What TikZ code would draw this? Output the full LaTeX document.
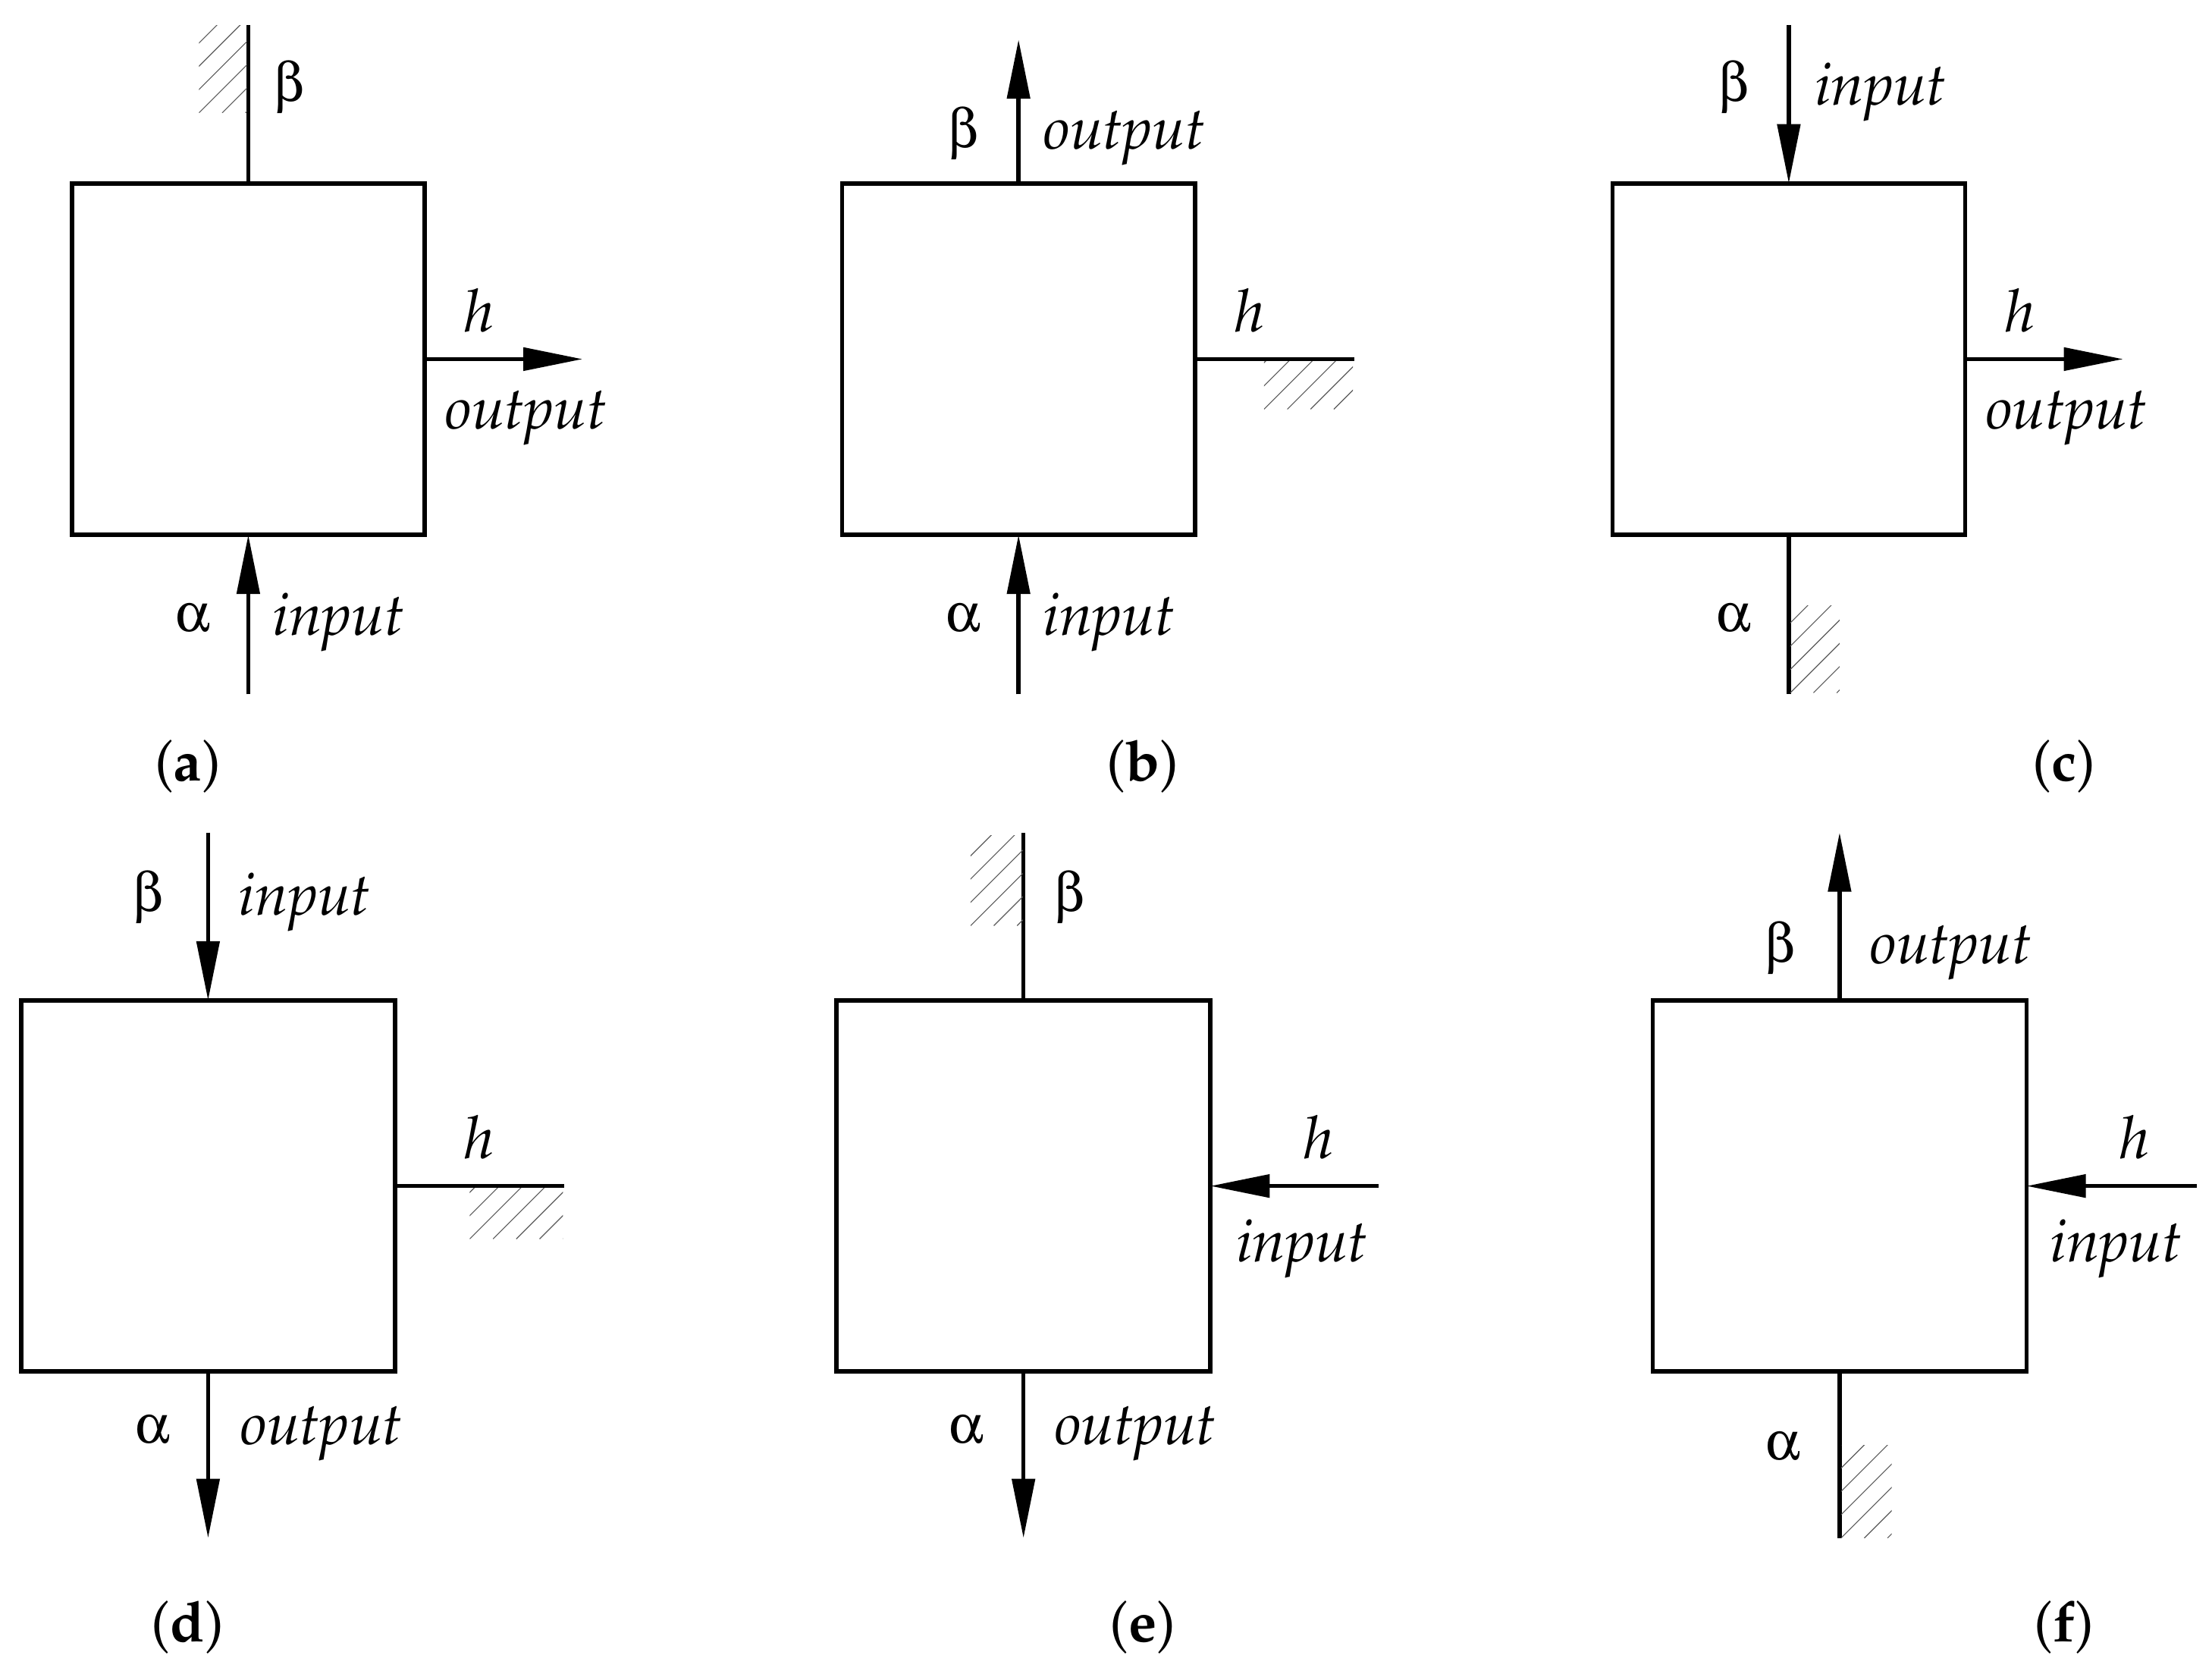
\documentclass[tikz,border=0pt]{standalone}
\usepackage[T1]{fontenc}
\usepackage{mathpazo}
\usepackage[Symbol]{upgreek}
\usetikzlibrary{arrows.meta}
\tikzset{
  boxs/.style={draw, line width=3pt, minimum width=250pt, minimum height=249pt, inner sep=0pt, outer sep=0pt},
  boxl/.style={draw, line width=3pt, minimum width=265pt, minimum height=263pt, inner sep=0pt, outer sep=0pt},
  conn/.style={line width=3pt},
  arr/.style={conn, -{Triangle[length=42pt,width=16pt]}},
  hatchline/.style={black!65, line width=0.6pt},
  lbl/.style={font=\fontsize{42}{50}\selectfont\itshape, inner sep=0pt, yshift=-3pt},
  grk/.style={font=\fontsize{39}{46}\selectfont, inner sep=0pt},
  captxt/.style={font=\fontsize{40}{48}\selectfont, inner sep=0pt}
}
\newcommand{\hatchbox}[5]{%
  \begin{scope}
    \clip (#1,#2) rectangle (#3,#4);
    \foreach \k in {-10,...,10} \draw[hatchline] (#1+\k*#5,#4) -- ++(200,-200);
  \end{scope}}
\begin{document}
\begin{tikzpicture}[x=1pt,y=-1pt]
\useasboundingbox (0,0) rectangle (1568,1186);
% ---------- (a)
\node[boxs] (A) at (176,254.5) {};
\coordinate (Atop) at (176,18);
\draw[conn] (A.north) -- (Atop);
\hatchbox{141}{18}{175}{80}{16.5}
\coordinate (Aright) at (413,254.5);
\draw[arr] (A.east) -- (Aright);
\coordinate (Abot) at (176,492);
\draw[arr] (Abot) -- (A.south);
\node[grk] (Abeta) at (205,62) {$\upbeta$};
\node[lbl] (Ah) at (340,217) {h};
\node[lbl] (Aout) at (373,293) {output};
\node[grk] (Aalpha) at (137,438) {$\upalpha$};
\node[lbl] (Ain) at (240,438) {input};
\node[captxt] (Acap) at (133,543) {(\textbf{a})};
% ---------- (b)
\node[boxs] (B) at (722,254.5) {};
\coordinate (Btop) at (722,28);
\draw[arr] (B.north) -- (Btop);
\coordinate (Bright) at (960,254.5);
\draw[conn] (B.east) -- (Bright);
\hatchbox{896}{256}{959}{290}{16.5}
\coordinate (Bbot) at (722,492);
\draw[arr] (Bbot) -- (B.south);
\node[grk] (Bbeta) at (683,95) {$\upbeta$};
\node[lbl] (Bout) at (797,95) {output};
\node[lbl] (Bh) at (886,217) {h};
\node[grk] (Balpha) at (683,438) {$\upalpha$};
\node[lbl] (Bin) at (786,438) {input};
\node[captxt] (Bcap) at (810,543) {(\textbf{b})};
% ---------- (c)
\node[boxs] (C) at (1268,254.5) {};
\coordinate (Ctop) at (1268,18);
\draw[arr] (Ctop) -- (C.north);
\coordinate (Cright) at (1505,254.5);
\draw[arr] (C.east) -- (Cright);
\coordinate (Cbot) at (1268,492);
\draw[conn] (C.south) -- (Cbot);
\hatchbox{1269}{429}{1304}{491}{16.5}
\node[grk] (Cbeta) at (1229,62) {$\upbeta$};
\node[lbl] (Cin) at (1333,62) {input};
\node[lbl] (Ch) at (1432,217) {h};
\node[lbl] (Cout) at (1465,293) {output};
\node[grk] (Calpha) at (1229,438) {$\upalpha$};
\node[captxt] (Ccap) at (1463,543) {(\textbf{c})};
% ---------- (d)
\node[boxl] (D) at (147.5,840.5) {};
\coordinate (Dtop) at (147.5,590);
\draw[arr] (Dtop) -- (D.north);
\coordinate (Dright) at (400,840.5);
\draw[conn] (D.east) -- (Dright);
\hatchbox{333}{842}{399}{878}{16.5}
\coordinate (Dbot) at (147.5,1090);
\draw[arr] (D.south) -- (Dbot);
\node[grk] (Dbeta) at (105,636) {$\upbeta$};
\node[lbl] (Din) at (216,636) {input};
\node[lbl] (Dh) at (340,803) {h};
\node[grk] (Dalpha) at (108,1013) {$\upalpha$};
\node[lbl] (Dout) at (228,1013) {output};
\node[captxt] (Dcap) at (133,1153) {(\textbf{d})};
% ---------- (e)
\node[boxl] (E) at (725.5,840.5) {};
\coordinate (Etop) at (725.5,590);
\draw[conn] (E.north) -- (Etop);
\hatchbox{688}{592}{725}{656}{16.5}
\coordinate (Eright) at (977,840.5);
\draw[arr] (Eright) -- (E.east);
\coordinate (Ebot) at (725.5,1090);
\draw[arr] (E.south) -- (Ebot);
\node[grk] (Ebeta) at (758,636) {$\upbeta$};
\node[lbl] (Eh) at (935,803) {h};
\node[lbl] (Ein) at (923,882) {input};
\node[grk] (Ealpha) at (685,1013) {$\upalpha$};
\node[lbl] (Eout) at (805,1013) {output};
\node[captxt] (Ecap) at (810,1153) {(\textbf{e})};
% ---------- (f)
\node[boxl] (F) at (1304,840.5) {};
\coordinate (Ftop) at (1304,590);
\draw[arr] (F.north) -- (Ftop);
\coordinate (Fright) at (1557,840.5);
\draw[arr] (Fright) -- (F.east);
\coordinate (Fbot) at (1304,1090);
\draw[conn] (F.south) -- (Fbot);
\hatchbox{1305}{1024}{1341}{1090}{16.5}
\node[grk] (Fbeta) at (1262,672) {$\upbeta$};
\node[lbl] (Fout) at (1383,672) {output};
\node[lbl] (Fh) at (1513,803) {h};
\node[lbl] (Fin) at (1500,882) {input};
\node[grk] (Falpha) at (1264,1025) {$\upalpha$};
\node[captxt] (Fcap) at (1463,1153) {(\textbf{f})};
\end{tikzpicture}
\end{document}
